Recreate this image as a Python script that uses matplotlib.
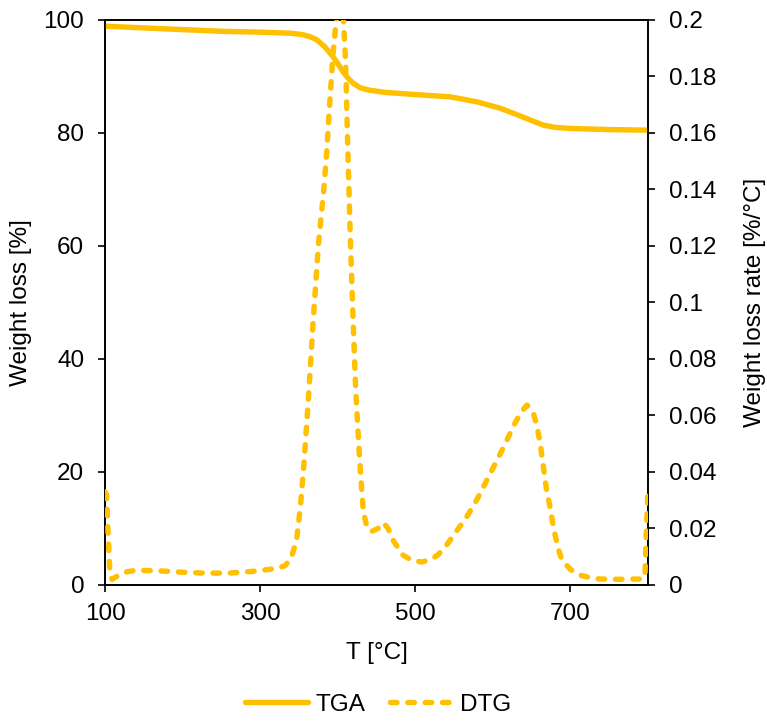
import matplotlib
matplotlib.use("Agg")
import matplotlib.pyplot as plt
from matplotlib.ticker import FuncFormatter
from matplotlib.lines import Line2D

plt.rcParams["font.family"] = ["Liberation Sans", "DejaVu Sans"]

# TGA: weight loss [%] vs T [°C]
tga_T = [100, 150, 200, 250, 300, 340, 355, 365, 373, 383, 394, 400, 407, 414,
         420, 429, 440, 460, 500, 545, 580, 609, 630, 650, 665, 680, 700, 750, 800]
tga_w = [98.9, 98.6, 98.3, 98.0, 97.85, 97.65, 97.4, 97.0, 96.5, 95.3, 93.5,
         92.3, 90.8, 89.6, 88.8, 88.0, 87.6, 87.2, 86.8, 86.4, 85.5, 84.4, 83.3,
         82.2, 81.4, 81.0, 80.8, 80.6, 80.5]

# DTG: weight loss rate [%/°C] vs T [°C]
dtg_T = [100, 101, 102, 104, 106, 109, 115, 125, 140, 170, 200, 230, 260, 290,
         320, 332, 340, 347, 352, 357, 362, 368, 375, 382, 386, 390, 394, 397,
         400, 404, 407, 410, 413, 416, 419, 423, 427, 430, 433, 438, 444, 452,
         459, 465, 471, 478, 484, 495, 508, 520, 529, 540, 553, 566, 579, 592,
         605, 616, 626, 636, 644, 652, 657, 661, 665, 669, 674, 678, 684, 689,
         700, 712, 725, 738, 760, 790, 796, 798, 800]
dtg_r = [0.033, 0.029, 0.032, 0.018, 0.006, 0.002, 0.003, 0.0045, 0.0052, 0.005,
         0.0045, 0.0042, 0.0042, 0.0048, 0.0058, 0.0068, 0.0095, 0.016, 0.028,
         0.045, 0.065, 0.092, 0.120, 0.140, 0.154, 0.172, 0.188, 0.197, 0.204,
         0.207, 0.202, 0.186, 0.154, 0.125, 0.100, 0.070, 0.050, 0.037, 0.026,
         0.020, 0.019, 0.020, 0.022, 0.020, 0.016, 0.013, 0.0106, 0.0088, 0.0081,
         0.0090, 0.0106, 0.014, 0.019, 0.024, 0.030, 0.037, 0.044, 0.050, 0.056,
         0.061, 0.0637, 0.061, 0.056, 0.050, 0.042, 0.034, 0.027, 0.0205, 0.013,
         0.0088, 0.0055, 0.0035, 0.0026, 0.0021, 0.0020, 0.0021, 0.0028, 0.0205,
         0.034]

x_ticks = [100, 300, 500, 700]
left_ticks = [0, 20, 40, 60, 80, 100]
right_ticks = [0, 0.02, 0.04, 0.06, 0.08, 0.1, 0.12, 0.14, 0.16, 0.18, 0.2]

GOLD = "#FFC000"
FS = 17.5
LW = 3.9
DASH = (0, (1.2, 2.0))

fig = plt.figure(figsize=(7.67, 7.22), dpi=100)
ax = fig.add_axes([0.1369, 0.1898, 0.8449 - 0.1369, 0.9723 - 0.1898])
ax2 = ax.twinx()

ax.plot(tga_T, tga_w, color=GOLD, lw=LW, solid_capstyle="round",
        solid_joinstyle="round", zorder=3)
ax2.plot(dtg_T, dtg_r, color=GOLD, lw=LW, linestyle=DASH,
         dash_capstyle="round", dash_joinstyle="round", zorder=3)

ax.set_xlim(100, 800)
ax.set_ylim(0, 100)
ax2.set_ylim(0, 0.2)
ax.set_xticks(x_ticks)
ax.set_yticks(left_ticks)
ax2.set_yticks(right_ticks)
ax2.yaxis.set_major_formatter(FuncFormatter(lambda v, p: f"{v:g}"))

for a in (ax, ax2):
    for s in a.spines.values():
        s.set_linewidth(1.2)
    a.tick_params(direction="out", length=5, width=1.2, labelsize=FS)
ax.tick_params(axis="y", pad=10)
ax.tick_params(axis="x", pad=8)
ax2.tick_params(axis="y", pad=10)

ax.set_xlabel("T [°C]", fontsize=FS, labelpad=12)
ax.set_ylabel("Weight loss [%]", fontsize=FS, labelpad=8)
ax2.set_ylabel("Weight loss rate [%/°C]", fontsize=FS, labelpad=20)

handles = [Line2D([], [], color=GOLD, lw=LW, solid_capstyle="round"),
           Line2D([], [], color=GOLD, lw=LW, linestyle=DASH,
                  dash_capstyle="round")]
fig.legend(handles, ["TGA", "DTG"], loc="center", bbox_to_anchor=(0.493, 0.024),
           ncol=2, frameon=False, fontsize=FS, handlelength=2.6,
           handletextpad=0.3, columnspacing=1.0)

fig.savefig("out.png", dpi=100)
